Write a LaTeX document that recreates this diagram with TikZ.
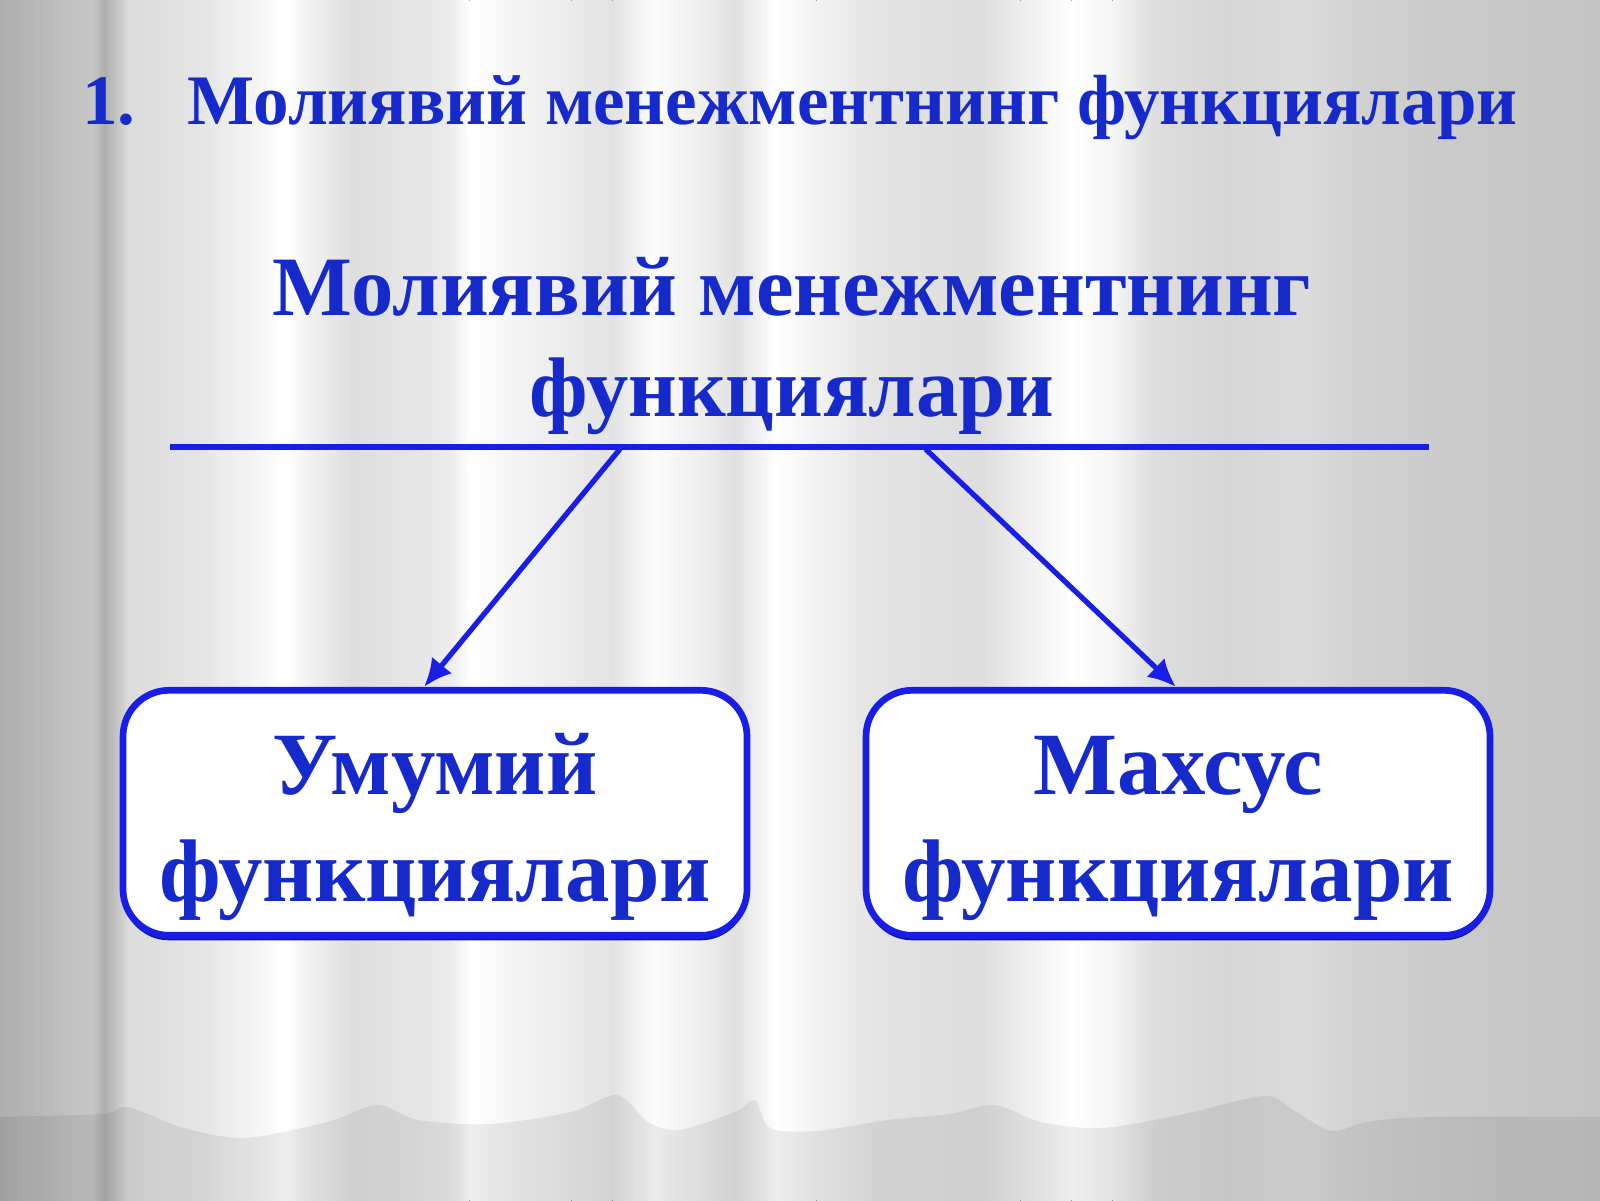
\documentclass[tikz,border=0pt]{standalone}
\usepackage{fontspec}
\setmainfont{Liberation Serif}
\usetikzlibrary{positioning,arrows.meta,shadows}
\definecolor{slideblue}{RGB}{22,42,204}
\definecolor{ruleblue}{RGB}{24,30,232}
\definecolor{shadeblue}{RGB}{16,24,150}

\begin{document}
\begin{tikzpicture}[fnbox/.style={draw=ruleblue,line width=1.9pt,fill=white,rounded corners=4.6mm,
        minimum width=6.24cm,minimum height=2.45cm,inner sep=0pt,align=center,text=slideblue,
        font=\fontsize{25.3}{30.2}\selectfont\bfseries,
        drop shadow={shadow xshift=0pt,shadow yshift=-0.5mm,fill=shadeblue,opacity=1}},
      fnarrow/.style={ruleblue,line width=1.5pt,-{Latex[length=2.8mm,width=2.6mm]}}]
      % curtain in the background
      \useasboundingbox (0,0) rectangle (16,12);
      \fill[white!80!black] (-0.1,-0.1) rectangle (16.1,12.1);
      \foreach \xa/\ga/\xb/\gb in {0/68/60/75,60/75/90/78,90/78/102/68,102/68/125/86,125/86/200/90,
          200/90/280/100,280/100/305/94,305/94/330/90,330/90/345/87,345/87/440/92,440/92/460/100,
          460/100/500/96,500/96/560/92,560/92/600/89,600/89/640/99,640/99/690/93,690/93/720/88,
          720/88/760/100,760/100/800/95,800/95/860/89,860/89/960/87,960/87/1000/93,1000/93/1050/100,
          1050/100/1090/96,1090/96/1130/87,1130/87/1200/84,1200/84/1280/86,1280/86/1330/82,
          1330/82/1400/80,1400/80/1480/78,1480/78/1600/77}
        \fill[left color=white!\ga!black,right color=white!\gb!black] (\xa/98,-0.2) rectangle (\xb/98+0.01,12.2);
      % lower part below the hem
      \fill[black,opacity=0.07] plot[smooth] coordinates {(-0.1,0.83) (1.02,0.86) (1.28,0.93) (1.84,0.72) (2.45,0.62)
          (3.27,0.78) (3.78,0.95) (4.18,0.8) (4.9,0.76) (5.71,0.88) (6.17,1.05) (6.48,0.78) (6.79,0.7) (7.35,0.88)
          (7.55,1.0) (7.7,0.72) (8.16,0.69) (8.88,0.8) (9.49,0.86) (9.95,0.95) (10.41,0.78) (11.02,0.72) (11.84,0.86)
          (12.65,1.04) (12.96,0.88) (13.32,0.69) (13.67,0.78) (14.29,0.83) (16.1,0.83)} -- (16.1,-0.1) -- (-0.1,-0.1) -- cycle;
      % texts
      \node[anchor=base west,text=slideblue,font=\fontsize{20.2}{24}\selectfont\bfseries,inner sep=0pt](num) at (0.816,10.755){1.};
      \node[anchor=base west,text=slideblue,font=\fontsize{20.2}{24}\selectfont\bfseries,inner sep=0pt](title) at (1.867,10.755){Молиявий менежментнинг функциялари};
      \node[align=center,text=slideblue,font=\fontsize{24.06}{29}\selectfont\bfseries](head) at (7.92,8.54){Молиявий менежментнинг\\функциялари};
      % rule under the heading
      \coordinate (ruleL) at (1.70,7.53);
      \coordinate (ruleR) at (14.29,7.53);
      \coordinate (forkL) at (6.20,7.51);
      \coordinate (forkR) at (9.255,7.51);
      \draw[ruleblue,line width=1.7pt] (ruleL) -- (ruleR);
      % boxes
      \node[fnbox](general) at (4.35,3.872){\rule{0pt}{25.5pt}Умумий\\функциялари};
      \node[fnbox](special) at (11.78,3.872){\rule{0pt}{25.5pt}Махсус\\функциялари};
      \draw[fnarrow] (forkL) -- ([xshift=-1.1mm]general.north);
      \draw[fnarrow] (forkR) -- ([xshift=-0.2mm]special.north);
    \end{tikzpicture}
\end{document}
